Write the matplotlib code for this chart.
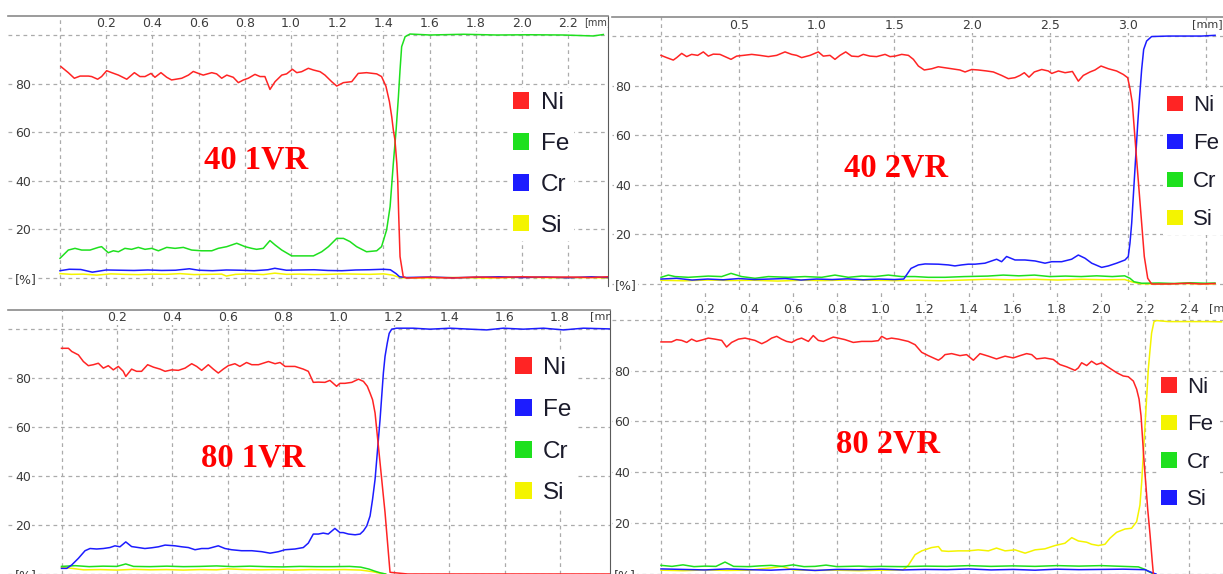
import matplotlib
matplotlib.use('Agg')
import matplotlib.pyplot as plt
from matplotlib.patches import Patch

W, H = 1223, 574

ELEMENTS = ['Ni', 'Fe', 'Cr', 'Si']

# ---- 40 1VR (top left) ----
p1_ni_x = [0.004, 0.036, 0.062, 0.087, 0.123, 0.137, 0.163, 0.180, 0.202, 0.224,
           0.253, 0.289, 0.322, 0.346, 0.368, 0.394, 0.411, 0.437, 0.462, 0.483,
           0.527, 0.556, 0.577, 0.599, 0.620, 0.657, 0.678, 0.700, 0.722, 0.750,
           0.772, 0.794, 0.815, 0.844, 0.866, 0.887, 0.909, 0.931, 0.960, 0.981,
           1.006, 1.025, 1.046, 1.075, 1.097, 1.126, 1.147, 1.176, 1.198, 1.227,
           1.263, 1.291, 1.327, 1.371, 1.392, 1.411, 1.426, 1.436, 1.443, 1.450,
           1.458, 1.462, 1.466, 1.472, 1.486, 1.501, 1.6, 1.7, 1.8, 1.9,
           2.0, 2.1, 2.2, 2.3, 2.37]
p1_ni_y = [87.0, 84.5, 82.2, 83.1, 83.1, 82.9, 81.8, 82.9, 85.3, 84.5,
           83.5, 81.8, 84.5, 82.9, 82.9, 84.2, 82.6, 84.5, 82.6, 81.5,
           82.2, 83.5, 85.0, 84.2, 83.5, 84.5, 84.0, 82.2, 83.5, 82.6,
           80.4, 81.5, 82.2, 83.8, 82.9, 82.9, 77.6, 80.8, 83.5, 84.0,
           85.9, 84.5, 84.9, 86.3, 85.6, 84.9, 83.5, 80.8, 79.0, 80.4,
           80.8, 84.2, 84.5, 84.0, 82.9, 78.9, 72.6, 66.4, 60.9, 56.8,
           47.2, 40.3, 26.6, 8.8, 0.5, 0.0, 0.3, 0.0, 0.4, 0.2,
           0.5, 0.3, 0.4, 0.2, 0.5]
p1_fe_x = [0.0, 0.036, 0.065, 0.094, 0.130, 0.166, 0.180, 0.209, 0.231, 0.253,
           0.281, 0.310, 0.339, 0.368, 0.397, 0.426, 0.462, 0.498, 0.534, 0.570,
           0.613, 0.657, 0.685, 0.722, 0.765, 0.801, 0.830, 0.851, 0.880, 0.909,
           0.931, 0.960, 1.003, 1.046, 1.097, 1.133, 1.162, 1.198, 1.227, 1.255,
           1.284, 1.327, 1.371, 1.392, 1.414, 1.429, 1.443, 1.455, 1.465, 1.472,
           1.479, 1.494, 1.515, 1.602, 1.746, 1.890, 2.035, 2.179, 2.309, 2.352]
p1_fe_y = [8.1, 11.5, 12.2, 11.5, 11.5, 12.6, 12.9, 10.4, 11.2, 10.8,
           12.2, 11.8, 12.6, 11.8, 12.2, 11.2, 12.6, 12.2, 12.6, 11.5,
           11.2, 11.2, 12.2, 12.9, 14.3, 12.9, 12.2, 11.8, 12.2, 15.4,
           13.6, 11.5, 9.1, 9.1, 9.1, 10.8, 12.9, 16.3, 16.3, 15.0,
           12.9, 10.8, 11.2, 12.9, 19.8, 29.4, 47.2, 60.9, 74.6, 85.6,
           95.2, 99.3, 100.4, 100.0, 100.3, 100.0, 100.1, 100.0, 99.6, 100.2]
p1_cr_x = [0.0, 0.04, 0.09, 0.14, 0.2, 0.26, 0.32, 0.38, 0.44, 0.5,
           0.56, 0.6, 0.66, 0.72, 0.78, 0.84, 0.9, 0.93, 0.98, 1.04,
           1.1, 1.16, 1.22, 1.28, 1.34, 1.4, 1.43, 1.455, 1.47, 1.5,
           1.6, 1.7, 1.8, 1.9, 2.0, 2.1, 2.2, 2.3, 2.37]
p1_cr_y = [3.0, 3.6, 3.5, 2.4, 3.3, 3.2, 3.1, 3.3, 3.1, 3.2,
           3.8, 3.2, 3.0, 3.3, 3.2, 3.0, 3.4, 4.0, 3.2, 3.3,
           3.4, 3.1, 3.0, 3.3, 3.4, 3.6, 3.4, 1.8, 0.5, 0.2,
           0.4, 0.1, 0.3, 0.5, 0.2, 0.4, 0.1, 0.5, 0.2]
p1_si_x = [0.0, 0.05, 0.1, 0.16, 0.22, 0.28, 0.34, 0.4, 0.46, 0.52,
           0.58, 0.64, 0.7, 0.72, 0.76, 0.82, 0.88, 0.93, 0.98, 1.04,
           1.1, 1.16, 1.22, 1.28, 1.34, 1.4, 1.44, 1.46, 1.48, 1.55,
           1.7, 1.85, 2.0, 2.15, 2.3, 2.37]
p1_si_y = [1.8, 1.5, 1.6, 1.2, 1.7, 1.5, 1.4, 1.6, 1.5, 1.8,
           1.4, 1.5, 1.6, 0.8, 1.5, 1.7, 1.4, 2.0, 1.5, 1.6,
           1.4, 1.5, 1.7, 1.6, 1.5, 1.7, 1.2, 0.5, 0.1, 0.0,
           0.2, 0.0, 0.3, 0.1, 0.2, 0.0]

# ---- 40 2VR (top right) ----
p2_ni_x = [0.000, 0.036, 0.079, 0.101, 0.133, 0.165, 0.197, 0.236, 0.272, 0.304,
           0.336, 0.379, 0.411, 0.450, 0.486, 0.529, 0.583, 0.636, 0.690, 0.743,
           0.797, 0.840, 0.872, 0.904, 0.958, 1.011, 1.043, 1.086, 1.118, 1.150,
           1.187, 1.225, 1.268, 1.300, 1.343, 1.386, 1.440, 1.472, 1.504, 1.547,
           1.590, 1.622, 1.654, 1.692, 1.740, 1.782, 1.825, 1.868, 1.921, 1.954,
           1.997, 2.039, 2.093, 2.136, 2.189, 2.232, 2.275, 2.307, 2.335, 2.365,
           2.399, 2.447, 2.489, 2.511, 2.554, 2.597, 2.644, 2.682, 2.714, 2.757,
           2.789, 2.828, 2.875, 2.928, 2.971, 2.999, 3.014, 3.029, 3.042, 3.055,
           3.072, 3.089, 3.106, 3.128, 3.153, 3.260, 3.389, 3.475, 3.561]
p2_ni_y = [92.3, 91.4, 90.4, 91.4, 93.1, 91.8, 92.7, 92.3, 93.7, 92.0,
           92.8, 92.7, 91.8, 90.7, 92.0, 92.3, 92.7, 92.3, 91.8, 92.3,
           93.7, 92.7, 92.3, 91.4, 92.3, 93.7, 92.0, 92.3, 90.7, 92.3,
           93.7, 92.0, 91.8, 92.7, 92.0, 91.8, 92.7, 91.8, 92.0, 92.7,
           92.3, 90.7, 88.0, 86.4, 86.9, 87.7, 87.3, 86.9, 86.4, 85.6,
           86.6, 86.4, 86.0, 85.6, 84.2, 82.9, 83.3, 84.2, 85.3, 83.5,
           85.6, 86.6, 86.0, 85.0, 86.0, 85.3, 85.8, 81.9, 84.2, 85.6,
           86.4, 88.0, 86.9, 86.0, 84.6, 83.3, 78.9, 73.1, 62.3, 51.6,
           38.1, 24.6, 11.1, 2.3, 0.0, 0.0, 0.3, 0.0, 0.2]
p2_fe_x = [0.0, 0.1, 0.2, 0.3, 0.4, 0.5, 0.6, 0.7, 0.8, 0.9,
           1.0, 1.1, 1.2, 1.3, 1.4, 1.5, 1.56, 1.607, 1.654, 1.697,
           1.782, 1.847, 1.889, 1.932, 1.975, 2.018, 2.082, 2.157, 2.189, 2.221,
           2.275, 2.339, 2.404, 2.468, 2.511, 2.575, 2.639, 2.682, 2.725, 2.768,
           2.832, 2.875, 2.928, 2.982, 3.003, 3.014, 3.025, 3.038, 3.051, 3.064,
           3.076, 3.089, 3.102, 3.121, 3.153, 3.260, 3.389, 3.475, 3.561]
p2_fe_y = [2.0, 2.3, 1.6, 2.0, 1.7, 2.2, 1.8, 2.0, 2.2, 1.6,
           2.0, 1.8, 2.1, 1.7, 2.0, 1.8, 2.0, 6.3, 7.7, 8.1,
           8.0, 7.7, 7.3, 7.7, 8.0, 8.0, 8.4, 10.0, 9.0, 11.1,
           9.7, 9.7, 9.3, 8.4, 9.0, 9.0, 10.0, 11.7, 10.4, 8.4,
           6.7, 7.3, 8.4, 9.7, 11.1, 16.5, 24.6, 38.1, 51.6, 65.0,
           75.8, 86.6, 94.7, 98.1, 99.9, 100.1, 100.1, 100.1, 100.4]
p2_cr_x = [0.0, 0.047, 0.09, 0.176, 0.304, 0.39, 0.45, 0.518, 0.604, 0.69,
           0.818, 0.925, 1.033, 1.118, 1.204, 1.29, 1.375, 1.461, 1.547, 1.632,
           1.718, 1.825, 1.95, 2.1, 2.2, 2.3, 2.4, 2.5, 2.6, 2.7,
           2.8, 2.9, 2.98, 3.014, 3.04, 3.09, 3.2, 3.3, 3.4, 3.5, 3.56]
p2_cr_y = [2.7, 3.6, 3.0, 2.7, 3.2, 3.0, 4.3, 3.0, 2.3, 3.0,
           2.7, 3.0, 2.7, 3.6, 2.7, 3.2, 3.0, 3.6, 3.0, 3.0,
           2.7, 2.7, 3.0, 3.2, 3.6, 3.3, 3.6, 3.0, 3.2, 3.0,
           3.3, 3.0, 3.3, 2.3, 0.9, 0.3, 0.4, 0.2, 0.5, 0.3, 0.4]
p2_si_x = [0.0, 0.15, 0.3, 0.45, 0.6, 0.75, 0.9, 1.05, 1.2, 1.35,
           1.5, 1.65, 1.8, 1.95, 2.1, 2.25, 2.4, 2.55, 2.7, 2.85,
           2.98, 3.03, 3.08, 3.2, 3.35, 3.5, 3.56]
p2_si_y = [1.5, 1.3, 1.6, 1.4, 1.5, 1.2, 1.5, 1.4, 1.6, 1.5,
           1.4, 1.5, 1.3, 1.6, 1.9, 1.7, 1.9, 1.6, 1.9, 1.7,
           1.8, 0.8, 0.1, 0.0, 0.2, 0.0, 0.1]

# ---- 80 1VR (bottom left) ----
p3_ni_x = [0.000, 0.025, 0.037, 0.061, 0.079, 0.097, 0.115, 0.133, 0.151, 0.169,
           0.187, 0.205, 0.223, 0.232, 0.253, 0.271, 0.289, 0.311, 0.332, 0.356,
           0.374, 0.398, 0.422, 0.446, 0.470, 0.488, 0.506, 0.530, 0.548, 0.566,
           0.584, 0.602, 0.626, 0.644, 0.668, 0.687, 0.711, 0.747, 0.771, 0.789,
           0.807, 0.843, 0.873, 0.891, 0.909, 0.927, 0.951, 0.969, 0.993, 1.005,
           1.023, 1.048, 1.072, 1.090, 1.104, 1.114, 1.123, 1.132, 1.138, 1.144,
           1.150, 1.156, 1.162, 1.168, 1.174, 1.180, 1.186, 1.25, 1.4, 1.6,
           1.8, 1.98]
p3_ni_y = [92.1, 92.1, 90.8, 89.4, 86.7, 85.0, 85.4, 86.0, 84.0, 85.0,
           83.3, 84.7, 82.7, 80.6, 83.6, 82.7, 82.7, 85.4, 84.4, 83.6,
           82.7, 83.3, 83.1, 84.0, 85.8, 84.7, 83.1, 85.4, 83.6, 82.0,
           83.6, 85.0, 85.8, 84.7, 86.3, 85.4, 85.4, 86.7, 85.8, 86.3,
           84.7, 84.7, 83.6, 82.7, 78.2, 78.3, 78.2, 79.0, 76.6, 77.8,
           77.8, 78.2, 79.5, 78.6, 76.6, 73.8, 71.1, 65.7, 58.9, 52.2,
           45.4, 38.6, 31.8, 25.1, 16.9, 8.8, 0.7, 0.0, 0.0, 0.0,
           0.0, 0.0]
p3_fe_x = [0.000, 0.019, 0.037, 0.061, 0.085, 0.103, 0.127, 0.151, 0.175, 0.193,
           0.211, 0.232, 0.253, 0.277, 0.301, 0.326, 0.350, 0.374, 0.410, 0.434,
           0.458, 0.482, 0.506, 0.530, 0.566, 0.590, 0.614, 0.650, 0.687, 0.723,
           0.753, 0.783, 0.807, 0.843, 0.873, 0.891, 0.909, 0.927, 0.945, 0.963,
           0.987, 1.005, 1.017, 1.036, 1.060, 1.078, 1.090, 1.102, 1.114, 1.123,
           1.132, 1.138, 1.144, 1.150, 1.156, 1.162, 1.168, 1.176, 1.183, 1.192,
           1.210, 1.270, 1.330, 1.403, 1.475, 1.535, 1.595, 1.667, 1.740, 1.812,
           1.884, 1.981]
p3_fe_y = [2.3, 2.3, 3.7, 6.4, 9.5, 10.4, 10.2, 10.4, 10.8, 11.5,
           11.1, 13.1, 11.2, 10.8, 10.4, 10.7, 11.1, 11.8, 11.5, 11.1,
           10.8, 9.9, 10.4, 10.4, 11.5, 10.4, 9.9, 9.5, 9.5, 9.1,
           8.5, 9.1, 9.9, 10.2, 10.8, 12.6, 16.3, 16.3, 16.7, 16.3,
           18.6, 16.9, 16.9, 16.3, 16.0, 16.3, 17.6, 19.6, 23.7, 30.5,
           38.6, 46.7, 54.9, 63.0, 72.5, 82.0, 88.8, 94.2, 98.2, 99.9,
           100.3, 100.3, 99.9, 100.3, 99.9, 99.6, 100.3, 99.9, 100.3, 99.6,
           100.3, 100.0]
p3_cr_x = [0.0, 0.05, 0.1, 0.15, 0.2, 0.232, 0.26, 0.32, 0.38, 0.44,
           0.5, 0.56, 0.62, 0.68, 0.74, 0.8, 0.86, 0.92, 0.98, 1.04,
           1.08, 1.11, 1.13, 1.15, 1.17]
p3_cr_y = [3.1, 3.4, 3.0, 3.2, 3.1, 4.1, 3.1, 3.0, 3.2, 3.0,
           3.1, 3.3, 3.0, 3.2, 3.0, 2.9, 3.1, 3.0, 3.0, 3.1,
           2.8, 2.0, 1.2, 0.5, 0.0]
p3_si_x = [0.0, 0.03, 0.08, 0.14, 0.2, 0.26, 0.32, 0.38, 0.44, 0.5,
           0.56, 0.6, 0.66, 0.72, 0.78, 0.84, 0.9, 0.96, 1.02, 1.08,
           1.12, 1.15, 1.17]
p3_si_y = [2.7, 2.4, 1.7, 1.8, 1.6, 1.9, 1.7, 1.8, 1.6, 1.8,
           1.7, 2.1, 1.8, 1.7, 1.8, 1.6, 1.8, 1.7, 1.8, 1.6,
           1.0, 0.3, 0.0]

# ---- 80 2VR (bottom right) ----
p4_ni_x = [0.000, 0.048, 0.071, 0.094, 0.117, 0.139, 0.162, 0.192, 0.215, 0.245,
           0.276, 0.298, 0.321, 0.352, 0.382, 0.412, 0.427, 0.458, 0.480, 0.503,
           0.526, 0.548, 0.571, 0.594, 0.617, 0.639, 0.670, 0.692, 0.715, 0.738,
           0.761, 0.783, 0.806, 0.836, 0.874, 0.912, 0.958, 0.988, 1.003, 1.026,
           1.048, 1.079, 1.124, 1.155, 1.185, 1.215, 1.238, 1.261, 1.276, 1.291,
           1.321, 1.359, 1.389, 1.420, 1.450, 1.488, 1.525, 1.564, 1.601, 1.632,
           1.662, 1.685, 1.707, 1.745, 1.783, 1.813, 1.844, 1.882, 1.897, 1.912,
           1.935, 1.957, 1.980, 2.003, 2.025, 2.048, 2.071, 2.101, 2.124, 2.147,
           2.162, 2.173, 2.182, 2.188, 2.197, 2.203, 2.212, 2.223, 2.233, 2.238]
p4_ni_y = [91.3, 91.3, 92.2, 91.9, 91.1, 92.4, 91.5, 92.2, 92.8, 92.4,
           91.9, 89.3, 91.1, 92.4, 92.8, 92.2, 91.9, 90.6, 91.5, 92.8,
           93.5, 92.4, 91.5, 91.1, 92.2, 92.8, 91.5, 93.8, 91.9, 91.5,
           92.4, 93.2, 92.8, 92.2, 91.1, 91.5, 91.5, 91.8, 93.5, 92.4,
           92.8, 92.4, 91.5, 90.2, 87.2, 85.9, 85.0, 84.1, 85.0, 86.3,
           86.7, 85.9, 86.3, 84.1, 86.7, 85.7, 84.6, 85.7, 85.0, 85.9,
           86.7, 86.3, 84.6, 85.0, 84.4, 82.4, 81.5, 80.1, 81.1, 83.1,
           82.0, 83.7, 82.4, 83.1, 81.8, 80.5, 79.2, 77.9, 77.6, 75.9,
           72.7, 68.8, 62.2, 54.4, 42.7, 36.2, 25.8, 15.4, 4.9, 0.0]
p4_fe_x = [0.0, 0.1, 0.2, 0.3, 0.4, 0.5, 0.55, 0.6, 0.7, 0.8,
           0.9, 1.0, 1.1, 1.124, 1.155, 1.185, 1.230, 1.261, 1.276, 1.306,
           1.351, 1.397, 1.442, 1.488, 1.525, 1.564, 1.609, 1.655, 1.700, 1.745,
           1.791, 1.836, 1.867, 1.897, 1.935, 1.957, 1.988, 2.018, 2.041, 2.071,
           2.109, 2.139, 2.162, 2.177, 2.185, 2.192, 2.200, 2.208, 2.215, 2.223,
           2.230, 2.241, 2.253, 2.306, 2.397, 2.488, 2.548]
p4_fe_y = [1.5, 1.3, 1.6, 1.4, 1.5, 2.4, 3.0, 1.6, 1.4, 1.5,
           1.3, 1.5, 1.6, 3.4, 7.6, 9.1, 10.4, 10.8, 9.1, 8.9,
           9.1, 9.1, 9.5, 9.1, 10.2, 9.1, 9.5, 8.2, 9.5, 9.9,
           11.2, 12.1, 14.3, 13.0, 12.5, 11.7, 11.2, 11.7, 14.1, 16.4,
           17.7, 18.0, 20.6, 27.1, 36.2, 46.6, 58.3, 70.1, 80.5, 88.3,
           94.8, 99.3, 99.7, 99.3, 99.3, 99.3, 99.2]
p4_cr_x = [0.0, 0.05, 0.1, 0.15, 0.2, 0.25, 0.291, 0.33, 0.4, 0.45,
           0.5, 0.55, 0.6, 0.65, 0.7, 0.75, 0.8, 0.85, 0.9, 0.95,
           1.0, 1.1, 1.2, 1.3, 1.4, 1.5, 1.6, 1.7, 1.8, 1.9,
           2.0, 2.1, 2.17, 2.2, 2.22, 2.24]
p4_cr_y = [3.4, 3.0, 3.6, 2.9, 3.1, 3.0, 4.7, 3.0, 2.9, 3.2,
           3.4, 3.0, 3.6, 2.9, 3.0, 3.5, 2.9, 3.0, 3.1, 2.9,
           3.0, 2.9, 3.1, 3.0, 3.3, 3.0, 3.2, 3.0, 3.3, 3.1,
           3.3, 3.0, 2.8, 1.8, 0.8, 0.0]
p4_si_x = [0.0, 0.1, 0.2, 0.3, 0.4, 0.5, 0.6, 0.7, 0.8, 0.9,
           1.0, 1.1, 1.2, 1.3, 1.4, 1.5, 1.6, 1.7, 1.8, 1.9,
           2.0, 2.1, 2.2, 2.23, 2.25]
p4_si_y = [2.0, 1.8, 1.6, 2.0, 1.7, 1.5, 1.9, 1.4, 1.8, 1.7,
           1.9, 1.6, 1.8, 1.7, 2.0, 1.6, 1.8, 1.5, 1.9, 1.7,
           1.8, 1.9, 1.7, 0.6, 0.0]

RED, GREEN, BLUE, YELLOW = '#ff2424', '#1ee01e', '#1c1cff', '#f4f400'
GRID = '#ababab'
PT = 0.72  # points per pixel at dpi 100

fig = plt.figure(figsize=(W / 100, H / 100), dpi=100)


def px_axes(box, x0, px_mm, y100, y0):
    # box = left, top, right, bottom in image pixels; x0/px_mm/y100/y0 calibrate the scales
    l, t, r, b = box
    ax = fig.add_axes([l / W, 1 - b / H, (r - l) / W, (b - t) / H])
    ppu = (y0 - y100) / 100
    ax.set_xlim((l - x0) / px_mm, (r - x0) / px_mm)
    ax.set_ylim((y0 - b) / ppu, (y0 - t) / ppu)
    return ax


def style(ax, xticks, xlabels, xlab_dy, ylab_dx, top_border, right_border, mm_x, mm_y, mm_size):
    ax.set_xticks(xticks, xlabels)
    ax.set_yticks([0, 20, 40, 60, 80, 100], ['[%]', '20', '40', '60', '80', ''])
    ax.xaxis.tick_top()
    ax.tick_params(axis='x', length=0, pad=-xlab_dy * PT, labelsize=9, labelcolor='#3c3c3c')
    ax.tick_params(axis='y', length=0, pad=-ylab_dx * PT, labelsize=9, labelcolor='#3c3c3c')
    for lab in ax.get_yticklabels():
        lab.set_horizontalalignment('left')
    for lab in ax.get_xticklabels() + ax.get_yticklabels():
        lab.set_bbox(dict(facecolor='white', edgecolor='none', pad=0.6))
    ax.grid(True, color=GRID, linestyle=(0, (3, 3)), linewidth=0.9)
    ax.set_axisbelow(True)
    ax.spines['left'].set_visible(False)
    ax.spines['bottom'].set_visible(False)
    ax.spines['top'].set_visible(top_border)
    ax.spines['top'].set_color('#8a8a8a')
    ax.spines['top'].set_linewidth(1.2)
    ax.spines['right'].set_visible(right_border)
    ax.spines['right'].set_color('#5a5a5a')
    ax.text(mm_x, mm_y, '[mm]', transform=ax.get_xaxis_transform(), fontsize=mm_size,
            color='#3c3c3c', ha='left', va='center', clip_on=True)


def legend(ax, colors, left, top, size, hl, spacing, textpad):
    handles = [Patch(facecolor=c, edgecolor='none', label=n) for n, c in zip(ELEMENTS, colors)]
    ax.legend(handles=handles, loc='upper left', bbox_to_anchor=(left / W, 1 - top / H),
              bbox_transform=fig.transFigure, prop={'family': 'Liberation Sans', 'size': size},
              handlelength=hl, handleheight=hl, handletextpad=textpad, labelspacing=spacing,
              borderpad=0.2, borderaxespad=0, frameon=True, fancybox=False, framealpha=1,
              facecolor='white', edgecolor='none', labelcolor='#1b1b2b')


def curves(ax, series):
    for xs, ys, c in series:
        ax.plot(xs, ys, color=c, linewidth=1.1, solid_joinstyle='round')


def tag(ax, x, y, text):
    ax.text(x, y, text, color='#ff0000', fontsize=23.5, fontweight='bold',
            family='Liberation Serif', ha='center', va='baseline')


x1 = [0.0, 0.2, 0.4, 0.6, 0.8, 1.0, 1.2, 1.4, 1.6, 1.8, 2.0, 2.2]
x2 = [0.0, 0.5, 1.0, 1.5, 2.0, 2.5, 3.0, 3.5]
x3 = [0.0, 0.2, 0.4, 0.6, 0.8, 1.0, 1.2, 1.4, 1.6, 1.8]
x4 = [0.0, 0.2, 0.4, 0.6, 0.8, 1.0, 1.2, 1.4, 1.6, 1.8, 2.0, 2.2, 2.4]


def labels(ticks, last_blank=False):
    out = [''] + ['%.1f' % v for v in ticks[1:]]
    if last_blank:
        out[-1] = ''
    return out


# top left: 40 1VR
ax1 = px_axes((8, 16, 608, 286), 60, 231, 35, 278)
style(ax1, x1, labels(x1), 14.1, 7, True, True, (584 - 60) / 231, (286 - 22.5) / 270, 7)
curves(ax1, [(p1_si_x, p1_si_y, YELLOW), (p1_cr_x, p1_cr_y, BLUE),
             (p1_fe_x, p1_fe_y, GREEN), (p1_ni_x, p1_ni_y, RED)])
legend(ax1, [RED, GREEN, BLUE, YELLOW], 507.8, 87.5, 17.5, 0.68, 0.77, 0.47)
tag(ax1, 0.85, 45.1, '40 1VR')

# top right: 40 2VR
ax2 = px_axes((612, 17, 1223, 290), 661, 155.6, 36.3, 284)
style(ax2, x2, labels(x2, True), 15.1, 3, True, False, (1192 - 661) / 155.6, (290 - 24.5) / 273, 8)
curves(ax2, [(p2_si_x, p2_si_y, YELLOW), (p2_cr_x, p2_cr_y, GREEN),
             (p2_fe_x, p2_fe_y, BLUE), (p2_ni_x, p2_ni_y, RED)])
legend(ax2, [RED, BLUE, GREEN, YELLOW], 1162.8, 91, 16, 0.69, 0.76, 0.46)
tag(ax2, 1.51, 43.4, '40 2VR')

# bottom left: 80 1VR
ax3 = px_axes((8, 310, 610, 574), 61.5, 277, 329, 575)
style(ax3, x3, labels(x3), 14.1, 7, True, True, (590 - 61.5) / 277, (574 - 316.5) / 264, 8)
curves(ax3, [(p3_si_x, p3_si_y, YELLOW), (p3_cr_x, p3_cr_y, GREEN),
             (p3_fe_x, p3_fe_y, BLUE), (p3_ni_x, p3_ni_y, RED)])
legend(ax3, [RED, BLUE, GREEN, YELLOW], 510.1, 352.5, 17.5, 0.7, 0.81, 0.45)
tag(ax3, 0.69, 44.0, '80 1VR')

# bottom right: 80 2VR
ax4 = px_axes((612, 292, 1223, 574), 661, 220, 320, 576)
style(ax4, x4, labels(x4), 23.6, 2, False, False, (1209 - 661) / 220, (574 - 308) / 282, 8)
curves(ax4, [(p4_fe_x, p4_fe_y, YELLOW), (p4_cr_x, p4_cr_y, GREEN),
             (p4_si_x, p4_si_y, BLUE), (p4_ni_x, p4_ni_y, RED)])
legend(ax4, [RED, YELLOW, GREEN, BLUE], 1156.5, 372.3, 16, 0.7, 0.74, 0.475)
tag(ax4, 1.03, 47.7, '80 2VR')

fig.savefig('out.png', dpi=100)
